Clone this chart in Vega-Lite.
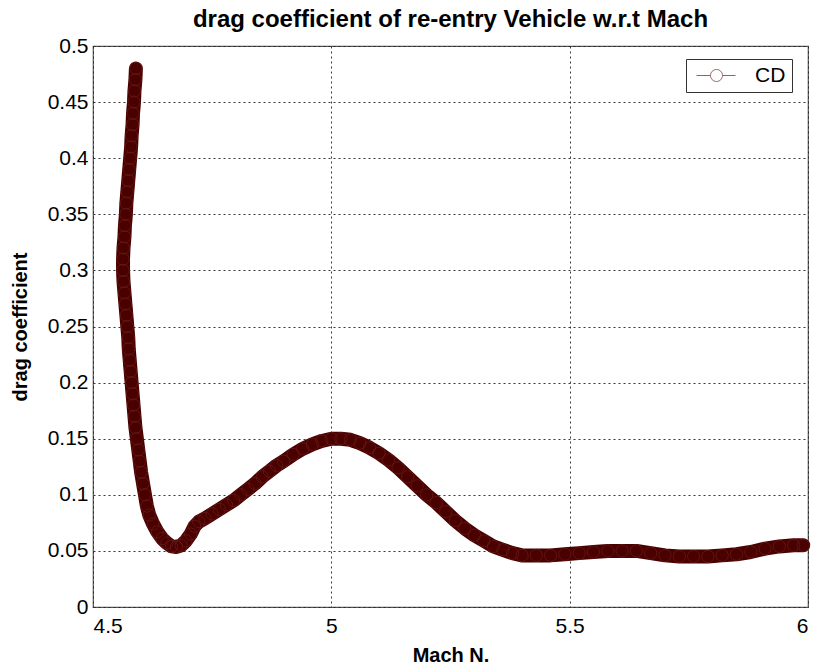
{
  "$schema": "https://vega.github.io/schema/vega-lite/v6.json",
  "width": 715,
  "height": 561,
  "autosize": {"type": "none"},
  "padding": {"left": 93, "top": 46, "right": 11, "bottom": 58},
  "background": "white",
  "title": {
    "text": "drag coefficient of re-entry Vehicle w.r.t Mach",
    "font": "Liberation Sans, Arial",
    "fontSize": 24,
    "fontWeight": "bold",
    "color": "black",
    "anchor": "middle",
    "offset": 3
  },
  "config": {
    "view": {"stroke": "#555555", "strokeWidth": 1.2},
    "axis": {
      "grid": true,
      "gridColor": "#222222",
      "gridDash": [2, 3],
      "gridOpacity": 0.9,
      "gridWidth": 1,
      "ticks": false,
      "domain": false,
      "labelFont": "Liberation Sans, Arial",
      "labelFontSize": 21,
      "labelColor": "black",
      "titleFont": "Liberation Sans, Arial",
      "titleFontSize": 20,
      "titleFontWeight": "bold",
      "titleColor": "black"
    }
  },
  "data": {
    "values": [
      {"i": 1, "mach": 4.590, "cd": 0.480},
      {"i": 2, "mach": 4.589, "cd": 0.470},
      {"i": 3, "mach": 4.587, "cd": 0.460},
      {"i": 4, "mach": 4.586, "cd": 0.450},
      {"i": 5, "mach": 4.584, "cd": 0.440},
      {"i": 6, "mach": 4.583, "cd": 0.430},
      {"i": 7, "mach": 4.581, "cd": 0.420},
      {"i": 8, "mach": 4.580, "cd": 0.410},
      {"i": 9, "mach": 4.578, "cd": 0.400},
      {"i": 10, "mach": 4.576, "cd": 0.390},
      {"i": 11, "mach": 4.574, "cd": 0.380},
      {"i": 12, "mach": 4.572, "cd": 0.370},
      {"i": 13, "mach": 4.570, "cd": 0.360},
      {"i": 14, "mach": 4.569, "cd": 0.350},
      {"i": 15, "mach": 4.567, "cd": 0.340},
      {"i": 16, "mach": 4.566, "cd": 0.330},
      {"i": 17, "mach": 4.564, "cd": 0.320},
      {"i": 18, "mach": 4.563, "cd": 0.310},
      {"i": 19, "mach": 4.563, "cd": 0.300},
      {"i": 20, "mach": 4.564, "cd": 0.290},
      {"i": 21, "mach": 4.566, "cd": 0.280},
      {"i": 22, "mach": 4.568, "cd": 0.270},
      {"i": 23, "mach": 4.570, "cd": 0.260},
      {"i": 24, "mach": 4.572, "cd": 0.250},
      {"i": 25, "mach": 4.574, "cd": 0.240},
      {"i": 26, "mach": 4.575, "cd": 0.230},
      {"i": 27, "mach": 4.577, "cd": 0.220},
      {"i": 28, "mach": 4.579, "cd": 0.210},
      {"i": 29, "mach": 4.581, "cd": 0.200},
      {"i": 30, "mach": 4.583, "cd": 0.190},
      {"i": 31, "mach": 4.585, "cd": 0.180},
      {"i": 32, "mach": 4.587, "cd": 0.170},
      {"i": 33, "mach": 4.589, "cd": 0.160},
      {"i": 34, "mach": 4.592, "cd": 0.150},
      {"i": 35, "mach": 4.595, "cd": 0.140},
      {"i": 36, "mach": 4.598, "cd": 0.130},
      {"i": 37, "mach": 4.601, "cd": 0.120},
      {"i": 38, "mach": 4.605, "cd": 0.110},
      {"i": 39, "mach": 4.609, "cd": 0.100},
      {"i": 40, "mach": 4.613, "cd": 0.090},
      {"i": 41, "mach": 4.618, "cd": 0.082},
      {"i": 42, "mach": 4.626, "cd": 0.074},
      {"i": 43, "mach": 4.635, "cd": 0.067},
      {"i": 44, "mach": 4.645, "cd": 0.061},
      {"i": 45, "mach": 4.655, "cd": 0.057},
      {"i": 46, "mach": 4.665, "cd": 0.054},
      {"i": 47, "mach": 4.675, "cd": 0.0535},
      {"i": 48, "mach": 4.685, "cd": 0.055},
      {"i": 49, "mach": 4.695, "cd": 0.059},
      {"i": 50, "mach": 4.705, "cd": 0.065},
      {"i": 51, "mach": 4.713, "cd": 0.072},
      {"i": 52, "mach": 4.722, "cd": 0.076},
      {"i": 53, "mach": 4.735, "cd": 0.079},
      {"i": 54, "mach": 4.750, "cd": 0.083},
      {"i": 55, "mach": 4.765, "cd": 0.087},
      {"i": 56, "mach": 4.780, "cd": 0.091},
      {"i": 57, "mach": 4.795, "cd": 0.095},
      {"i": 58, "mach": 4.810, "cd": 0.100},
      {"i": 59, "mach": 4.825, "cd": 0.105},
      {"i": 60, "mach": 4.840, "cd": 0.110},
      {"i": 61, "mach": 4.855, "cd": 0.116},
      {"i": 62, "mach": 4.870, "cd": 0.121},
      {"i": 63, "mach": 4.885, "cd": 0.126},
      {"i": 64, "mach": 4.900, "cd": 0.130},
      {"i": 65, "mach": 4.920, "cd": 0.136},
      {"i": 66, "mach": 4.940, "cd": 0.141},
      {"i": 67, "mach": 4.960, "cd": 0.145},
      {"i": 68, "mach": 4.980, "cd": 0.148},
      {"i": 69, "mach": 5.000, "cd": 0.150},
      {"i": 70, "mach": 5.020, "cd": 0.150},
      {"i": 71, "mach": 5.040, "cd": 0.149},
      {"i": 72, "mach": 5.060, "cd": 0.146},
      {"i": 73, "mach": 5.080, "cd": 0.142},
      {"i": 74, "mach": 5.100, "cd": 0.137},
      {"i": 75, "mach": 5.120, "cd": 0.131},
      {"i": 76, "mach": 5.140, "cd": 0.124},
      {"i": 77, "mach": 5.160, "cd": 0.116},
      {"i": 78, "mach": 5.180, "cd": 0.108},
      {"i": 79, "mach": 5.200, "cd": 0.100},
      {"i": 80, "mach": 5.220, "cd": 0.093},
      {"i": 81, "mach": 5.240, "cd": 0.085},
      {"i": 82, "mach": 5.260, "cd": 0.077},
      {"i": 83, "mach": 5.280, "cd": 0.070},
      {"i": 84, "mach": 5.300, "cd": 0.064},
      {"i": 85, "mach": 5.320, "cd": 0.059},
      {"i": 86, "mach": 5.340, "cd": 0.054},
      {"i": 87, "mach": 5.360, "cd": 0.051},
      {"i": 88, "mach": 5.380, "cd": 0.048},
      {"i": 89, "mach": 5.400, "cd": 0.046},
      {"i": 90, "mach": 5.430, "cd": 0.046},
      {"i": 91, "mach": 5.460, "cd": 0.046},
      {"i": 92, "mach": 5.490, "cd": 0.047},
      {"i": 93, "mach": 5.520, "cd": 0.048},
      {"i": 94, "mach": 5.550, "cd": 0.049},
      {"i": 95, "mach": 5.580, "cd": 0.050},
      {"i": 96, "mach": 5.610, "cd": 0.050},
      {"i": 97, "mach": 5.640, "cd": 0.050},
      {"i": 98, "mach": 5.670, "cd": 0.048},
      {"i": 99, "mach": 5.700, "cd": 0.046},
      {"i": 100, "mach": 5.730, "cd": 0.045},
      {"i": 101, "mach": 5.760, "cd": 0.045},
      {"i": 102, "mach": 5.790, "cd": 0.045},
      {"i": 103, "mach": 5.820, "cd": 0.046},
      {"i": 104, "mach": 5.850, "cd": 0.047},
      {"i": 105, "mach": 5.880, "cd": 0.049},
      {"i": 106, "mach": 5.910, "cd": 0.052},
      {"i": 107, "mach": 5.940, "cd": 0.054},
      {"i": 108, "mach": 5.970, "cd": 0.055},
      {"i": 109, "mach": 5.990, "cd": 0.055}
    ]
  },
  "encoding": {
    "x": {
      "field": "mach",
      "type": "quantitative",
      "title": "Mach N.",
      "scale": {"domain": [4.5, 6], "nice": false, "zero": false},
      "axis": {"values": [4.5, 5, 5.5, 6], "format": "~g", "labelPadding": 8, "titlePadding": 9}
    },
    "y": {
      "field": "cd",
      "type": "quantitative",
      "title": "drag coefficient",
      "scale": {"domain": [0, 0.5], "nice": false},
      "axis": {
        "values": [0, 0.05, 0.1, 0.15, 0.2, 0.25, 0.3, 0.35, 0.4, 0.45, 0.5],
        "format": "~g",
        "labelPadding": 5,
        "titlePadding": 17
      }
    },
    "order": {"field": "i", "type": "quantitative"}
  },
  "layer": [
    {
      "mark": {"type": "line", "color": "#4b0000", "strokeWidth": 14, "strokeCap": "round", "strokeJoin": "round"}
    },
    {
      "mark": {"type": "point", "shape": "circle", "filled": false, "size": 150, "strokeWidth": 1},
      "encoding": {
        "color": {
          "datum": "CD",
          "type": "nominal",
          "scale": {"range": ["#6a1f1f"]},
          "legend": {
            "title": null,
            "orient": "none",
            "legendX": 593,
            "legendY": 13,
            "direction": "vertical",
            "strokeColor": "#333333",
            "fillColor": "white",
            "padding": 6,
            "symbolType": "M-0.6,0H0.8M2,0H3.3M2,0A0.6,0.6 0 1,1 0.8,0A0.6,0.6 0 1,1 2,0Z",
            "symbolSize": 400,
            "symbolStrokeWidth": 1,
            "symbolStrokeColor": "#7a3535",
            "symbolFillColor": "transparent",
            "labelFont": "Liberation Sans, Arial",
            "labelFontSize": 21,
            "labelColor": "black",
            "labelOffset": 42
          }
        }
      }
    }
  ]
}
